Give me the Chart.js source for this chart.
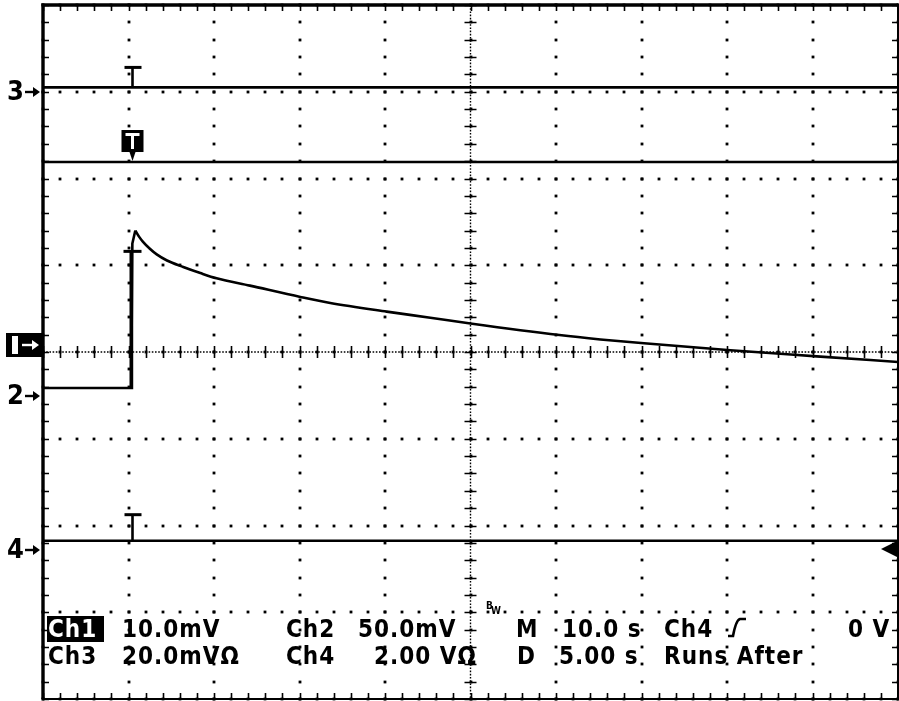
<!DOCTYPE html>
<html>
<head>
<meta charset="utf-8">
<script src="https://cdn.jsdelivr.net/npm/chart.js@4/dist/chart.umd.min.js"></script>
<style>
  html, body { margin: 0; padding: 0; background: #fff; }
</style>
</head>
<body>
<canvas id="scope" width="899" height="701"></canvas>
<script>
// Horizontal: 10 s/div over 10 divisions. Vertical values are in screen divisions (-4..4).
const timeS = [0, 10.35, 10.4, 10.45, 10.8, 11.23, 11.7, 12.5, 13.3, 14.5, 16.4, 18.4, 20.3, 24.2, 30.1, 33.6, 40.2, 45.3, 50.2, 60.4, 65.2, 70.3, 80.4, 90.5, 100];
const ch1Div = [-0.415, -0.415, 0.3, 1.25, 1.40, 1.33, 1.27, 1.19, 1.125, 1.055, 0.98, 0.91, 0.85, 0.765, 0.635, 0.565, 0.465, 0.395, 0.325, 0.195, 0.145, 0.10, 0.02, -0.05, -0.115];
const peakIndex = 4;

// flat traces (div)
const ch3Level = 3.05;
const refLevel = 2.19;
const ch4Level = -2.175;

// ground markers on the left edge (div)
const groundLabels = ['3', '1', '2', '4'];
const groundLevels = [3.0, 0.08, -0.51, -2.28];

const triggerTime = 10.45;
const ch1TriggerLevel = 1.16;
const triggerLevelRight = -2.27;

// readout lines under the graticule
const readoutRow1 = ['Ch1', '10.0mV', 'Ch2', '50.0mV', 'M', '10.0 s', 'Ch4', '0 V'];
const readoutRow2 = ['Ch3', '20.0mV\u03a9', 'Ch4', '2.00 V\u03a9', 'D', '5.00 s', 'Runs After'];

function flat(level) {
  return [{ x: 0, y: level }, { x: 100, y: level }];
}

const FONT = '"DejaVu Sans Condensed", "DejaVu Sans", sans-serif';

const graticule = {
  id: 'graticule',
  beforeDatasetsDraw(chart) {
    const { ctx, chartArea: a, scales: { x, y } } = chart;
    ctx.save();
    ctx.fillStyle = '#000';
    ctx.strokeStyle = '#000';
    const dot = (px, py) => ctx.fillRect(Math.round(px) - 1.4, Math.round(py) - 1.4, 2.8, 2.8);

    // dotted major rows and columns
    for (let i = 0; i <= 10; i++) {
      const px = x.getPixelForValue(i * 10);
      for (let j = 0; j <= 40; j++) dot(px, y.getPixelForValue(-4 + j * 0.2));
    }
    for (let j = 0; j <= 8; j++) {
      const py = y.getPixelForValue(-4 + j);
      for (let i = 0; i <= 50; i++) dot(x.getPixelForValue(i * 2), py);
    }

    // centre cross: fine dotted line with minor ticks
    const cx = x.getPixelForValue(50);
    const cy = y.getPixelForValue(0);
    ctx.lineWidth = 1.4;
    ctx.setLineDash([1.6, 1.6]);
    ctx.beginPath();
    ctx.moveTo(a.left, cy); ctx.lineTo(a.right, cy);
    ctx.moveTo(cx, a.top); ctx.lineTo(cx, a.bottom);
    ctx.stroke();
    ctx.setLineDash([]);
    ctx.lineWidth = 1.6;
    ctx.beginPath();
    for (let i = 0; i <= 50; i++) {
      const px = Math.round(x.getPixelForValue(i * 2)) + 0.5;
      ctx.moveTo(px, cy - 6); ctx.lineTo(px, cy + 6);
    }
    for (let j = 0; j <= 40; j++) {
      const py = Math.round(y.getPixelForValue(-4 + j * 0.2)) + 0.5;
      ctx.moveTo(cx - 6, py); ctx.lineTo(cx + 6, py);
    }
    ctx.stroke();

    // border ticks
    ctx.beginPath();
    for (let i = 0; i <= 50; i++) {
      const px = Math.round(x.getPixelForValue(i * 2)) + 0.5;
      ctx.moveTo(px, a.top); ctx.lineTo(px, a.top + 6);
      ctx.moveTo(px, a.bottom); ctx.lineTo(px, a.bottom - 6);
    }
    for (let j = 0; j <= 40; j++) {
      const py = Math.round(y.getPixelForValue(-4 + j * 0.2)) + 0.5;
      ctx.moveTo(a.left, py); ctx.lineTo(a.left + 6, py);
      ctx.moveTo(a.right, py); ctx.lineTo(a.right - 6, py);
    }
    ctx.stroke();

    // frame
    ctx.lineWidth = 3.4;
    ctx.beginPath();
    ctx.moveTo(a.left, a.bottom); ctx.lineTo(a.left, a.top); ctx.lineTo(a.right, a.top);
    ctx.stroke();
    ctx.lineWidth = 2;
    ctx.beginPath();
    ctx.moveTo(a.right, a.top); ctx.lineTo(a.right, a.bottom); ctx.lineTo(a.left, a.bottom);
    ctx.stroke();
    ctx.restore();
  },

  afterDatasetsDraw(chart) {
    const { ctx, chartArea: a, scales: { x, y } } = chart;
    const tx = Math.round(x.getPixelForValue(triggerTime)) + 0.5;
    ctx.save();
    ctx.fillStyle = '#000';
    ctx.strokeStyle = '#000';

    // trigger "T" markers standing on the flat traces
    const tee = (level, height) => {
      const ly = y.getPixelForValue(level);
      ctx.lineWidth = 3;
      ctx.beginPath();
      ctx.moveTo(tx - 8, ly - height); ctx.lineTo(tx + 9, ly - height);
      ctx.stroke();
      ctx.lineWidth = 2.6;
      ctx.beginPath();
      ctx.moveTo(tx, ly - height); ctx.lineTo(tx, ly);
      ctx.stroke();
    };
    tee(ch3Level, 20);
    tee(ch4Level, 26);

    // Ch1 trigger bar with its stem on the rising edge
    const by = y.getPixelForValue(ch1TriggerLevel);
    ctx.lineWidth = 3;
    ctx.beginPath();
    ctx.moveTo(tx - 9, by); ctx.lineTo(tx + 9, by);
    ctx.stroke();
    ctx.lineWidth = 2;
    ctx.beginPath();
    ctx.moveTo(tx - 2, by); ctx.lineTo(tx - 2, y.getPixelForValue(ch1Div[0]));
    ctx.stroke();

    // boxed T above the reference trace
    const ry = y.getPixelForValue(refLevel);
    ctx.fillRect(tx - 11, ry - 32, 22, 22);
    ctx.beginPath();
    ctx.moveTo(tx - 3, ry - 10); ctx.lineTo(tx + 3, ry - 10); ctx.lineTo(tx, ry - 1);
    ctx.closePath();
    ctx.fill();
    ctx.fillStyle = '#fff';
    ctx.fillRect(tx - 7, ry - 29, 14, 3);
    ctx.fillRect(tx - 1.5, ry - 29, 3, 16);
    ctx.fillStyle = '#000';

    // trigger level arrow at the right edge
    const ty = y.getPixelForValue(triggerLevelRight);
    ctx.beginPath();
    ctx.moveTo(a.right - 17, ty); ctx.lineTo(a.right - 1, ty - 8); ctx.lineTo(a.right - 1, ty + 8);
    ctx.closePath();
    ctx.fill();

    // ground markers on the left
    const arrow = (x0, x1, py, color) => {
      ctx.strokeStyle = color; ctx.fillStyle = color;
      ctx.lineWidth = 2.4;
      ctx.beginPath(); ctx.moveTo(x0, py); ctx.lineTo(x1 - 5, py); ctx.stroke();
      ctx.beginPath();
      ctx.moveTo(x1, py); ctx.lineTo(x1 - 7, py - 5); ctx.lineTo(x1 - 7, py + 5);
      ctx.closePath(); ctx.fill();
    };
    ctx.textBaseline = 'middle';
    ctx.textAlign = 'left';
    groundLabels.forEach((label, i) => {
      const py = Math.round(y.getPixelForValue(groundLevels[i]));
      if (label === '1') {
        ctx.fillStyle = '#000';
        ctx.fillRect(6, py - 12, 36, 24);
        ctx.fillStyle = '#fff';
        ctx.fillRect(12, py - 9, 6, 18);
        arrow(22, 39, py, '#fff');
      } else {
        ctx.fillStyle = '#000';
        ctx.font = 'bold 27px ' + FONT;
        ctx.fillText(label, 7, py + 1);
        arrow(25, 40, py, '#000');
      }
    });

    // readout
    ctx.fillStyle = '#000';
    ctx.strokeStyle = '#000';
    ctx.textBaseline = 'alphabetic';
    ctx.font = 'bold 24px ' + FONT;
    ctx.letterSpacing = '1px';
    const r1 = a.top + 632;
    const r2 = a.top + 659;
    const row1X = [48, 122, 286, 358, 516, 562, 664, 848];
    const row2X = [48, 122, 286, 374, 517, 559, 664];
    readoutRow1.forEach((t, i) => {
      if (i === 0) {
        ctx.fillRect(47, r1 - 21, 57, 26);
        ctx.fillStyle = '#fff';
        ctx.fillText(t, row1X[i], r1);
        ctx.fillStyle = '#000';
      } else {
        ctx.fillText(t, row1X[i], r1);
      }
    });
    readoutRow2.forEach((t, i) => ctx.fillText(t, row2X[i], r2));
    ctx.letterSpacing = '0px';

    // bandwidth-limit flag
    ctx.font = 'bold 10px ' + FONT;
    ctx.fillText('B', 486, r1 - 28);
    ctx.fillText('W', 491, r1 - 23);

    // rising-edge slope symbol
    ctx.lineWidth = 2.6;
    ctx.beginPath();
    ctx.moveTo(728, r1 - 1);
    ctx.lineTo(733, r1 - 1);
    ctx.quadraticCurveTo(736, r1 - 17, 740, r1 - 18);
    ctx.lineTo(746, r1 - 18);
    ctx.stroke();
    ctx.restore();
  }
};

const traceStyle = { borderColor: '#000', borderWidth: 2.6, pointRadius: 0, tension: 0, fill: false };
const ch1Points = timeS.map((t, i) => ({ x: t, y: ch1Div[i] }));

new Chart(document.getElementById('scope'), {
  type: 'line',
  data: {
    datasets: [
      // step up to the peak, then the smooth decay
      { label: 'Ch1', data: ch1Points.slice(0, peakIndex + 1), ...traceStyle },
      { label: 'Ch1 decay', data: ch1Points.slice(peakIndex), ...traceStyle, cubicInterpolationMode: 'monotone' },
      { label: 'Ch3', data: flat(ch3Level), ...traceStyle },
      { label: 'Ref', data: flat(refLevel), ...traceStyle },
      { label: 'Ch4', data: flat(ch4Level), ...traceStyle }
    ]
  },
  options: {
    responsive: false,
    animation: false,
    layout: { padding: { left: 43, top: 5, right: 1, bottom: 2 } },
    scales: {
      x: { type: 'linear', min: 0, max: 100, display: false },
      y: { type: 'linear', min: -4, max: 4, display: false }
    },
    plugins: { legend: { display: false }, tooltip: { enabled: false } }
  },
  plugins: [graticule]
});
</script>
</body>
</html>
